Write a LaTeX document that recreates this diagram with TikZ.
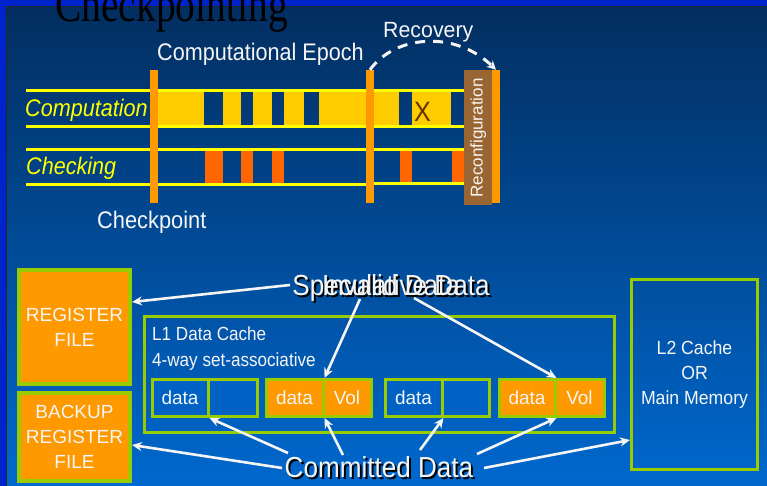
\documentclass[tikz,border=0pt]{standalone}
\usepackage{fontspec}
\setmainfont{Liberation Sans}
\newfontfamily\titlefont{Liberation Serif}
\usetikzlibrary{arrows.meta}

\definecolor{panelTop}{RGB}{2,46,96}
\definecolor{panelBot}{RGB}{0,104,206}
\definecolor{frameBlue}{RGB}{0,36,204}
\definecolor{laneYellow}{RGB}{255,255,0}
\definecolor{fillYellow}{RGB}{255,204,0}
\definecolor{barOrange}{RGB}{255,153,0}
\definecolor{checkRed}{RGB}{255,102,0}
\definecolor{reconBrown}{RGB}{153,102,51}
\definecolor{edgeGreen}{RGB}{153,204,0}
\definecolor{cellBlue}{RGB}{0,98,196}
\definecolor{xBrown}{RGB}{102,51,0}
\definecolor{softWhite}{RGB}{245,245,245}

\newcommand\fsz[1]{\fontsize{#1}{#1}\selectfont}
\newcommand\fszl[2]{\fontsize{#1}{#2}\selectfont}

\tikzset{
  lbl/.style={text=softWhite, inner sep=0pt},
  lane/.style={draw=laneYellow, line width=3pt},
  cpbar/.style={fill=barOrange, inner sep=0pt, minimum width=8pt, minimum height=133pt},
  regbox/.style={draw=edgeGreen, fill=barOrange, line width=4pt, inner sep=0pt,
                 text=softWhite, align=center, font=\fszl{19}{25}},
  cellB/.style={draw=edgeGreen, fill=cellBlue, line width=3pt, inner sep=0pt,
                minimum height=37pt, text=softWhite, font=\fsz{19}},
  cellO/.style={cellB, fill=barOrange},
  warrow/.style={draw=softWhite, line width=2.6pt, -{Stealth[length=10pt,width=9pt]}},
  biglbl/.style={lbl, xscale=0.9, font=\fsz{29}},
}

\begin{document}
\begin{tikzpicture}[x=1pt,y=-1pt]
\useasboundingbox (0,0) rectangle (767,486);
\clip (0,0) rectangle (767,486);

% slide frame and background
\fill[frameBlue] (0,0) rectangle (767,486);
\shade[top color=panelTop, bottom color=panelBot] (7,7) rectangle (767,486);
\draw[black!85, line width=1pt] (6.5,486) -- (6.5,6.5) -- (767,6.5);

% title (runs off the top edge)
\node[anchor=base west, inner sep=0pt, xscale=0.79, font=\titlefont\fsz{50}, text=black]
  (title) at (55,22) {Checkpointing};

% ---------- timeline ----------
% yellow fill of the computation lane, with idle gaps left open
\foreach \a/\b in {158/204, 223/241, 253/272, 284/304, 319/366, 374/399, 412/451}
  \fill[fillYellow] (\a,92) rectangle (\b,126);

% checking activity
\foreach \a/\b in {241/253, 272/284, 400/412, 452/464}
  \fill[checkRed] (\a,150) rectangle (\b,183);
\fill[checkRed] (205,150) rectangle (223,184.5);

% lane borders
\draw[lane] (26,91) -- (464,91);
\draw[lane] (26,127) -- (464,127);
\draw[lane] (26,149.5) -- (464,149.5);
\draw[lane] (26,185) -- (370,185);
\draw[lane] (370,183.5) -- (464,183.5);

% error mark
\node[inner sep=0pt, anchor=base, font=\fsz{28}, text=xBrown, xscale=0.9] (err) at (422.5,122) {X};

% reconfiguration block and checkpoint bars
\fill[reconBrown] (464,70) rectangle (492,205);
\node[rotate=90, anchor=base, inner sep=0pt, font=\fsz{17}, text=white!92!brown] (recon)
  at (482.5,138) {Reconfiguration};
\node[cpbar] (cp1) at (154,136.5) {};
\node[cpbar] (cp2) at (370,136.5) {};
\node[cpbar] (cp3) at (496,136.5) {};

% lane and phase labels
\node[lbl, anchor=base west, text=laneYellow, font=\fsz{24}\itshape, xscale=0.9] (comp) at (25,117) {Computation};
\node[lbl, anchor=base west, text=laneYellow, font=\fsz{24}\itshape, xscale=0.9] (chk) at (26,175) {Checking};
\node[lbl, anchor=base west, font=\fsz{24}, xscale=0.9] (epoch) at (157,61) {Computational Epoch};
\node[lbl, anchor=base west, font=\fsz{22}, xscale=0.97] (recov) at (383,38) {Recovery};
\node[lbl, anchor=base west, font=\fsz{24}, xscale=0.91] (ckpt) at (97,229) {Checkpoint};

% recovery arc
\draw[softWhite, line width=3pt, dash pattern=on 10pt off 8pt,
      -{Stealth[length=9pt,width=9pt]}]
  (cp2.north) .. controls (395,35) and (455,30) .. (cp3.north);

% ---------- storage ----------
\node[regbox, minimum width=111pt, minimum height=114pt] (rf) at (74.5,327) {REGISTER\\FILE};
\node[regbox, minimum width=111pt, minimum height=88pt] (brf) at (74.5,437) {BACKUP\\REGISTER\\FILE};

\draw[edgeGreen, line width=3pt] (144.5,316.5) rectangle (614.5,432.5);
\node[lbl, anchor=base west, font=\fsz{19}, xscale=0.9] (l1a) at (152,340) {L1 Data Cache};
\node[lbl, anchor=base west, font=\fsz{19}, xscale=0.9] (l1b) at (152,366) {4-way set-associative};

% cache ways: data word plus volatile tag
\node[cellB, minimum width=56pt] (w1d) at (180,398) {data};
\node[cellB, minimum width=49pt] (w1v) at (232.5,398) {};
\node[cellO, minimum width=57pt] (w2d) at (294.5,398) {data};
\node[cellO, minimum width=48pt] (w2v) at (347,398) {Vol};
\node[cellB, minimum width=57pt] (w3d) at (413.5,398) {data};
\node[cellB, minimum width=47pt] (w3v) at (465.5,398) {};
\node[cellO, minimum width=56pt] (w4d) at (527,398) {data};
\node[cellO, minimum width=49pt] (w4v) at (579.5,398) {Vol};

% outer memory level (width divided by the text squeeze factor)
\node[draw=edgeGreen, line width=3pt, minimum width=135.5pt, minimum height=190pt,
      inner sep=0pt, text=softWhite, align=center, font=\fszl{19}{25},
      xscale=0.93] (l2) at (694.5,374.5) {L2 Cache\\OR\\Main Memory};

% ---------- annotations ----------
\node[biglbl, anchor=base, text=black] at (393,297) {Speculative Data};
\node[biglbl, anchor=base, text=black] at (393,297) {Invalid Data};
\node[biglbl, anchor=base] (spec) at (391,295) {Speculative Data};
\node[biglbl, anchor=base] (inval) at (391,295) {Invalid Data};
\node[biglbl, anchor=base, text=black] at (381,479) {Committed Data};
\node[biglbl, anchor=base] (comm) at (379,477) {Committed Data};

\coordinate (s1) at (290,285);
\coordinate (s2) at (360,299);
\coordinate (s3) at (414,298);
\coordinate (c1) at (282,468);
\coordinate (c2) at (288,453);
\coordinate (c3) at (343,455);
\coordinate (c4) at (420,450);
\coordinate (c5) at (477,454);
\coordinate (c6) at (484,468);

\draw[warrow] (s1) -- (rf.east |- 0,302);
\draw[warrow] (s2) -- (w2d.north east);
\draw[warrow] (s3) -- (w4d.north east);
\draw[warrow] (c1) -- (brf.east |- 0,445);
\draw[warrow] (c2) -- (w1d.south east);
\draw[warrow] (c3) -- (w2d.south east);
\draw[warrow] (c4) -- (w3d.south east);
\draw[warrow] (c5) -- (w4d.south east);
\draw[warrow] (c6) -- (l2.west |- 0,440);
\end{tikzpicture}
\end{document}
